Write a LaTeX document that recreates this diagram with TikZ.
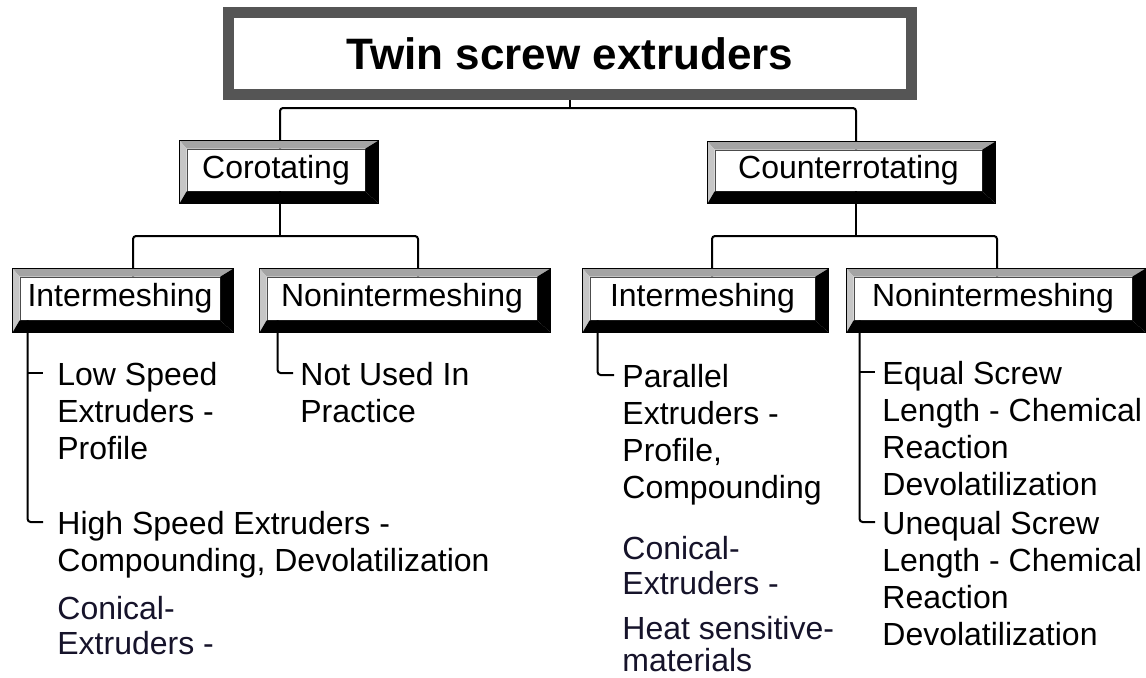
\documentclass[tikz,border=0pt]{standalone}
\usepackage{fontspec}
\setmainfont{Liberation Sans}
\usetikzlibrary{calc, positioning}
\definecolor{framegray}{HTML}{555555}
\definecolor{bevtop}{HTML}{A4A4A4}
\definecolor{bevleft}{HTML}{C6C6C6}
\definecolor{notecol}{HTML}{16132A}
\tikzset{
  headbox/.style={rectangle, draw=framegray, line width=5.5pt, fill=white,
                  font=\fontsize{22}{26}\selectfont\bfseries,
                  minimum width=341.5pt, minimum height=41pt},
  bevelbox/.style={rectangle, draw=black!70, line width=0.4pt, fill=white,
                   inner sep=0pt, font=\fontsize{16}{19}\selectfont,
                   minimum height=21.5pt},
  leaf/.style={anchor=north west, align=left, inner sep=0pt,
               font=\fontsize{16}{18.5}\selectfont},
  note/.style={leaf, text=notecol, font=\fontsize{16}{17.5}\selectfont},
  link/.style={draw, line width=1pt, rounded corners=1.5pt}
}
% bevel round a box node
\newcommand{\bevelframe}[1]{%
  \fill[bevtop] ($(#1.north west)+(-7,-8)$) -- ($(#1.north east)+(13,-8)$)
    -- (#1.north east) -- (#1.north west) -- cycle;
  \fill[bevleft] ($(#1.north west)+(-7,-8)$) -- (#1.north west)
    -- (#1.south west) -- ($(#1.south west)+(-7,12)$) -- cycle;
  \fill[black] ($(#1.north east)+(13,-8)$) -- ($(#1.south east)+(13,12)$)
    -- (#1.south east) -- (#1.north east) -- cycle;
  \fill[black] ($(#1.south west)+(-7,12)$) -- (#1.south west)
    -- (#1.south east) -- ($(#1.south east)+(13,12)$) -- cycle;
  \draw[black, line width=0.4pt] ($(#1.north west)+(-7,-8)$)
    rectangle ($(#1.south east)+(13,12)$);
}

\begin{document}
\begin{tikzpicture}[x=0.5pt, y=-0.5pt]
    \fill[white] (0,0) rectangle (1146,677);
    \useasboundingbox (0,0) rectangle (1146,677);

    % boxes
    \node[headbox] (twin) at (570,53.5) {Twin screw extruders};
    \node[bevelbox, minimum width=89pt, minimum height=21pt] (coro) at (276,170) {Corotating};
    \node[bevelbox, minimum width=133.5pt, minimum height=20.5pt] (counter) at (848.5,170.5) {Counterrotating};
    \node[bevelbox, minimum width=100pt] (interL) at (120,298.5) {Intermeshing};
    \node[bevelbox, minimum width=135pt] (nonL) at (402,298.5) {Nonintermeshing};
    \node[bevelbox, minimum width=112.5pt] (interR) at (702.5,298.5) {Intermeshing};
    \node[bevelbox, minimum width=139pt] (nonR) at (993,298.5) {Nonintermeshing};

    % leaf texts
    \node[leaf] (lowsp) at (57,361.5) {Low Speed\\Extruders -\\Profile};
    \node[leaf] (highsp) at (57,510.5) {High Speed Extruders -\\Compounding, Devolatilization};
    \node[note] (conL) at (57,595.5) {Conical-\\Extruders -};
    \node[leaf] (notused) at (300,361.5) {Not Used In\\Practice};
    \node[leaf] (parallel) at (622,363.5) {Parallel\\Extruders -\\Profile,\\Compounding};
    \node[note] (conR) at (622,536) {Conical-\\Extruders -};
    \node[note, font=\fontsize{16}{16}\selectfont] (heat) at (622,616) {Heat sensitive-\\materials};
    \node[leaf] (equal) at (882,360.5) {Equal Screw\\Length - Chemical\\Reaction\\Devolatilization};
    \node[leaf] (unequal) at (882,510.5) {Unequal Screw\\Length - Chemical\\Reaction\\Devolatilization};

    % joints and hooks
    \coordinate (j0) at ($(twin.south)+(0,8)$);
    \coordinate (j1) at (280,236);
    \coordinate (j2) at (856,236);
    \coordinate (sL) at ([xshift=4pt]interL.south west);
    \coordinate (sN) at ([xshift=5.5pt]nonL.south west);
    \coordinate (sP) at ([xshift=4pt]interR.south west);
    \coordinate (sR) at ([xshift=3pt]nonR.south west);
    \coordinate (h1) at (43,373);
    \coordinate (h2) at (43,522);
    \coordinate (h3) at (293,373);
    \coordinate (h4) at (614,375);
    \coordinate (h5) at (875,372);
    \coordinate (h6) at (875,522);

    % connectors
    \draw[link] (twin.south) -- (j0);
    \draw[link] ([xshift=2pt]coro.north) |- (j0) -| ([xshift=3.75pt]counter.north);
    \draw[link] ([xshift=2pt]coro.south) -- (j1);
    \draw[link] ([xshift=6.5pt]interL.north) |- (j1) -| ([xshift=8pt]nonL.north);
    \draw[link] ([xshift=3.75pt]counter.south) -- (j2);
    \draw[link] ([xshift=4.75pt]interR.north) |- (j2) -| ([xshift=2pt]nonR.north);
    \draw[link] (sL) |- (h2);
    \draw[link] (sL |- h1) -- (h1);
    \draw[link] (sN) |- (h3);
    \draw[link] (sP) |- (h4);
    \draw[link] (sR) |- (h6);
    \draw[link] (sR |- h5) -- (h5);

    % bevels on top of the stems
    \bevelframe{coro}
    \bevelframe{counter}
    \bevelframe{interL}
    \bevelframe{nonL}
    \bevelframe{interR}
    \bevelframe{nonR}
\end{tikzpicture}
\end{document}
